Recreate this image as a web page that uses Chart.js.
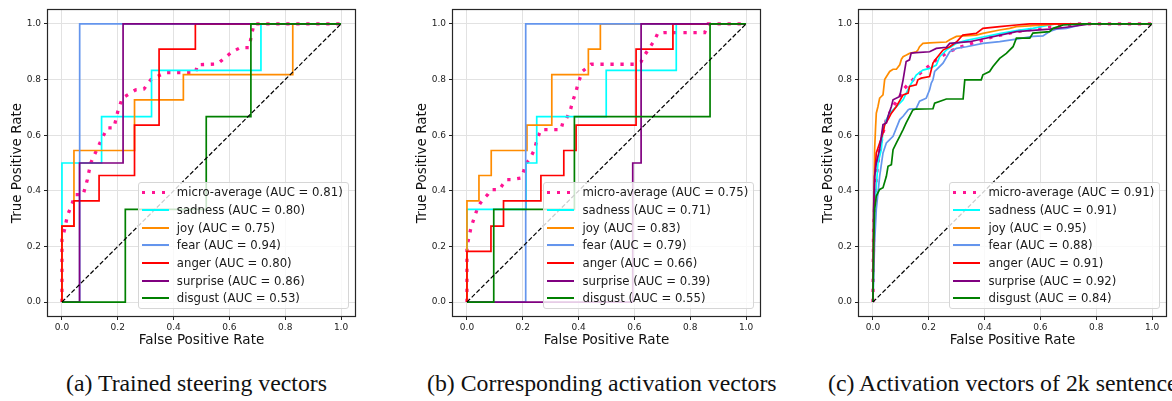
<!DOCTYPE html>
<html>
<head>
<meta charset="utf-8">
<script src="https://cdn.jsdelivr.net/npm/chart.js@4.4.1/dist/chart.umd.min.js"></script>
<style>
  html, body { margin: 0; padding: 0; background: #fff; }
  body { width: 1172px; height: 401px; overflow: hidden; position: relative; font-family: "DejaVu Sans", sans-serif; }
  .panel { position: absolute; top: 0; width: 357px; height: 352px; }
  .panel canvas { position: absolute; left: 0; top: 0; }
  .legend { position: absolute; right: 10px; bottom: 42.7px; background: rgba(255,255,255,0.8);
            border: 1px solid #d6d6d6; border-radius: 3px; padding: 1px 5px 1px 3px;
            font-size: 11.7px; color: #1a1a1a; }
  .row { display: flex; align-items: center; height: 17.7px; white-space: nowrap; }
  .handle { width: 27px; margin-right: 8px; flex: none; }
  .caption { position: absolute; top: 370px; font-family: "Liberation Serif", serif; font-size: 23.8px;
             white-space: nowrap; color: #111; }
</style>
</head>
<body>

<script>
// ---- data ----
const CLASS_NAMES = ["micro-average", "sadness", "joy", "fear", "anger", "surprise", "disgust"];
const COLORS = ["#ff1493", "#00ffff", "#ff8c00", "#6495ed", "#ff0000", "#800080", "#008000"];
const TICKS = [0, 0.2, 0.4, 0.6, 0.8, 1.0];
const DIAGONAL = [[0, 0], [1, 1]];
const CAPTIONS = ["(a) Trained steering vectors", "(b) Corresponding activation vectors", "(c) Activation vectors of 2k sentences"];

// (a) trained steering vectors
const AUC_A = [0.81, 0.80, 0.75, 0.94, 0.80, 0.86, 0.53];
const A_MICRO = [[0,0],[0,0.225],[0.0096,0.261],[0.019,0.309],[0.037,0.356],[0.047,0.386],[0.076,0.386],[0.091,0.44],[0.103,0.5],[0.136,0.572],[0.162,0.626],[0.186,0.626],[0.2,0.685],[0.216,0.733],[0.264,0.763],[0.294,0.766],[0.318,0.799],[0.354,0.817],[0.375,0.825],[0.479,0.825],[0.485,0.853],[0.557,0.856],[0.61,0.9],[0.64,0.915],[0.67,0.915],[0.688,1],[1,1]];
const A_SADNESS = [[0,0],[0,0.5],[0.142,0.5],[0.142,0.667],[0.321,0.667],[0.321,0.833],[0.713,0.833],[0.713,1],[1,1]];
const A_JOY = [[0,0],[0,0.273],[0.043,0.273],[0.043,0.545],[0.26,0.545],[0.26,0.727],[0.435,0.727],[0.435,0.818],[0.827,0.818],[0.827,1],[1,1]];
const A_FEAR = [[0,0],[0.0635,0],[0.0635,1],[1,1]];
const A_ANGER = [[0,0],[0,0.273],[0.043,0.273],[0.043,0.364],[0.133,0.364],[0.133,0.455],[0.26,0.455],[0.26,0.636],[0.348,0.636],[0.348,0.909],[0.478,0.909],[0.478,1],[1,1]];
const A_SURPRISE = [[0,0],[0.063,0],[0.063,0.5],[0.219,0.5],[0.219,1],[1,1]];
const A_DISGUST = [[0,0],[0.227,0],[0.227,0.333],[0.517,0.333],[0.517,0.667],[0.677,0.667],[0.677,1],[1,1]];

// (b) corresponding activation vectors
const AUC_B = [0.75, 0.71, 0.83, 0.79, 0.66, 0.39, 0.55];
const B_MICRO = [[0,0],[0,0.2],[0.008,0.237],[0.014,0.266],[0.024,0.297],[0.038,0.338],[0.048,0.356],[0.062,0.374],[0.074,0.386],[0.086,0.404],[0.116,0.404],[0.128,0.422],[0.14,0.44],[0.158,0.44],[0.194,0.446],[0.203,0.47],[0.212,0.5],[0.224,0.512],[0.242,0.548],[0.248,0.572],[0.26,0.608],[0.266,0.62],[0.337,0.62],[0.343,0.644],[0.355,0.656],[0.371,0.692],[0.379,0.722],[0.391,0.758],[0.397,0.782],[0.407,0.811],[0.413,0.829],[0.445,0.855],[0.6,0.855],[0.624,0.864],[0.636,0.887],[0.648,0.905],[0.66,0.923],[0.672,0.941],[0.684,0.967],[0.708,0.969],[0.852,0.969],[0.864,1],[1,1]];
const B_SADNESS = [[0,0],[0,0.333],[0.212,0.333],[0.212,0.5],[0.25,0.5],[0.25,0.667],[0.499,0.667],[0.499,0.833],[0.75,0.833],[0.75,1],[1,1]];
const B_JOY = [[0,0],[0,0.364],[0.043,0.364],[0.043,0.455],[0.087,0.455],[0.087,0.545],[0.215,0.545],[0.215,0.636],[0.304,0.636],[0.304,0.818],[0.435,0.818],[0.435,0.909],[0.478,0.909],[0.478,1],[1,1]];
const B_FEAR = [[0,0],[0.2105,0],[0.2105,1],[1,1]];
const B_ANGER = [[0,0],[0,0.182],[0.086,0.182],[0.086,0.273],[0.131,0.273],[0.131,0.364],[0.265,0.364],[0.265,0.455],[0.347,0.455],[0.347,0.545],[0.391,0.545],[0.391,0.636],[0.606,0.636],[0.606,0.909],[0.738,0.909],[0.738,1],[1,1]];
const B_SURPRISE = [[0,0],[0.594,0],[0.594,0.5],[0.624,0.5],[0.624,1],[1,1]];
const B_DISGUST = [[0,0],[0.096,0],[0.096,0.333],[0.385,0.333],[0.385,0.667],[0.871,0.667],[0.871,1],[1,1]];

// (c) activation vectors of 2k sentences
const AUC_C = [0.91, 0.91, 0.95, 0.88, 0.91, 0.92, 0.84];
const C_MICRO = [[0,0],[0.0024,0.273],[0.012,0.452],[0.024,0.548],[0.036,0.608],[0.048,0.656],[0.072,0.703],[0.096,0.739],[0.113,0.769],[0.131,0.787],[0.155,0.811],[0.191,0.841],[0.227,0.871],[0.263,0.895],[0.299,0.912],[0.335,0.924],[0.394,0.942],[0.43,0.954],[0.514,0.972],[0.633,0.99],[0.693,0.996],[0.729,1],[1,1]];
const C_SADNESS = [[0,0],[0.006,0.333],[0.018,0.5],[0.03,0.548],[0.036,0.62],[0.048,0.656],[0.06,0.679],[0.084,0.703],[0.108,0.727],[0.131,0.775],[0.155,0.816],[0.179,0.834],[0.203,0.84],[0.227,0.852],[0.239,0.882],[0.263,0.906],[0.299,0.93],[0.335,0.941],[0.394,0.953],[0.454,0.965],[0.514,0.976],[0.573,0.984],[0.633,0.996],[0.657,1],[1,1]];
const C_JOY = [[0,0],[0.0024,0.333],[0.006,0.548],[0.0096,0.632],[0.012,0.679],[0.018,0.703],[0.024,0.733],[0.03,0.739],[0.036,0.745],[0.042,0.8],[0.048,0.81],[0.06,0.829],[0.072,0.837],[0.084,0.837],[0.096,0.853],[0.102,0.873],[0.108,0.882],[0.12,0.888],[0.131,0.894],[0.143,0.897],[0.155,0.9],[0.161,0.906],[0.167,0.918],[0.179,0.93],[0.203,0.932],[0.263,0.935],[0.275,0.943],[0.299,0.955],[0.37,0.96],[0.394,0.966],[0.454,0.978],[0.49,0.984],[0.514,0.99],[0.633,0.997],[0.657,1],[1,1]];
const C_FEAR = [[0,0],[0.006,0.213],[0.012,0.333],[0.024,0.452],[0.036,0.536],[0.048,0.572],[0.06,0.584],[0.072,0.596],[0.096,0.656],[0.108,0.668],[0.126,0.691],[0.131,0.694],[0.155,0.696],[0.167,0.722],[0.191,0.733],[0.203,0.763],[0.209,0.787],[0.215,0.799],[0.221,0.829],[0.227,0.835],[0.251,0.859],[0.275,0.9],[0.299,0.912],[0.335,0.918],[0.394,0.93],[0.454,0.936],[0.514,0.945],[0.573,0.955],[0.609,0.957],[0.633,0.973],[0.657,0.981],[0.693,0.984],[0.729,0.993],[0.753,1],[1,1]];
const C_ANGER = [[0,0],[0.0024,0.213],[0.006,0.452],[0.012,0.536],[0.024,0.572],[0.036,0.608],[0.042,0.638],[0.054,0.656],[0.066,0.679],[0.084,0.703],[0.108,0.745],[0.126,0.751],[0.131,0.775],[0.155,0.781],[0.161,0.799],[0.173,0.805],[0.203,0.811],[0.215,0.859],[0.227,0.876],[0.251,0.906],[0.275,0.918],[0.299,0.935],[0.322,0.96],[0.37,0.966],[0.394,0.984],[0.454,0.99],[0.514,0.996],[0.562,1],[1,1]];
const C_SURPRISE = [[0,0],[0.0024,0.333],[0.006,0.452],[0.012,0.5],[0.024,0.548],[0.03,0.596],[0.036,0.638],[0.048,0.644],[0.054,0.668],[0.066,0.703],[0.072,0.727],[0.096,0.739],[0.108,0.799],[0.113,0.829],[0.119,0.865],[0.131,0.871],[0.137,0.895],[0.155,0.897],[0.203,0.9],[0.227,0.912],[0.263,0.916],[0.275,0.93],[0.346,0.936],[0.514,0.972],[0.633,0.981],[0.693,0.988],[0.753,0.996],[0.777,1],[1,1]];
const C_DISGUST = [[0,0],[0.0024,0.213],[0.006,0.333],[0.012,0.381],[0.024,0.405],[0.036,0.411],[0.048,0.452],[0.054,0.488],[0.066,0.494],[0.072,0.548],[0.084,0.572],[0.096,0.596],[0.108,0.62],[0.119,0.644],[0.131,0.668],[0.143,0.691],[0.155,0.694],[0.215,0.695],[0.221,0.715],[0.263,0.73],[0.323,0.73],[0.329,0.799],[0.388,0.799],[0.394,0.817],[0.418,0.829],[0.43,0.847],[0.454,0.876],[0.478,0.894],[0.502,0.918],[0.514,0.949],[0.562,0.949],[0.573,0.967],[0.633,0.972],[0.645,0.984],[0.681,0.996],[0.753,1],[1,1]];

// panel placement: left edge of each canvas (axes left minus the 46px y axis)
const PANEL_LEFT = [1.7, 407.3, 813.3];
const CAPTION_LEFT = [66, 427, 828];

const PANELS = [
  { series: [A_MICRO, A_SADNESS, A_JOY, A_FEAR, A_ANGER, A_SURPRISE, A_DISGUST], auc: AUC_A },
  { series: [B_MICRO, B_SADNESS, B_JOY, B_FEAR, B_ANGER, B_SURPRISE, B_DISGUST], auc: AUC_B },
  { series: [C_MICRO, C_SADNESS, C_JOY, C_FEAR, C_ANGER, C_SURPRISE, C_DISGUST], auc: AUC_C }
];

// draws the four spines round the plot area
const framePlugin = {
  id: "frame",
  afterDraw(chart) {
    const { ctx, chartArea: a } = chart;
    ctx.save();
    ctx.strokeStyle = "#262626";
    ctx.lineWidth = 1.2;
    ctx.strokeRect(Math.round(a.left) - 0.5, Math.round(a.top) - 0.5,
                   Math.round(a.right - a.left) + 1, Math.round(a.bottom - a.top) + 1);
    ctx.restore();
  }
};

const toXY = pts => pts.map(p => ({ x: p[0], y: p[1] }));
const tickFont = { family: "DejaVu Sans", size: 9 };
const titleFont = { family: "DejaVu Sans", size: 13.5 };

function makeLegend(panelDiv, labels) {
  const box = document.createElement("div");
  box.className = "legend";
  labels.forEach((label, i) => {
    const row = document.createElement("div");
    row.className = "row";
    const h = document.createElement("span");
    h.className = "handle";
    if (i === 0) {
      h.style.height = "3px";
      h.style.background = "repeating-linear-gradient(90deg," + COLORS[0] + " 0 3.3px, transparent 3.3px 10px)";
    } else {
      h.style.height = "2px";
      h.style.background = COLORS[i];
    }
    const t = document.createElement("span");
    t.textContent = label;
    row.appendChild(h);
    row.appendChild(t);
    box.appendChild(row);
  });
  panelDiv.appendChild(box);
}

PANELS.forEach((panel, p) => {
  const div = document.createElement("div");
  div.className = "panel";
  div.style.left = PANEL_LEFT[p] + "px";
  const canvas = document.createElement("canvas");
  canvas.width = 357;
  canvas.height = 352;
  div.appendChild(canvas);
  document.body.appendChild(div);

  const labels = CLASS_NAMES.map((n, i) => n + " (AUC = " + panel.auc[i].toFixed(2) + ")");

  const datasets = panel.series.map((pts, i) => ({
    label: labels[i],
    data: toXY(pts),
    borderColor: COLORS[i],
    borderWidth: i === 0 ? 3.3 : 1.7,
    borderDash: i === 0 ? [3.3, 6.7] : [],
    order: 7 - i
  }));
  datasets.push({
    label: "chance",
    data: toXY(DIAGONAL),
    borderColor: "#000",
    borderWidth: 1.2,
    borderDash: [4.5, 2.2],
    order: 0
  });

  new Chart(canvas, {
    type: "scatter",
    data: { datasets },
    options: {
      responsive: false,
      animation: false,
      layout: { padding: { top: 10, right: 4, left: 0, bottom: 0 } },
      showLine: true,
      elements: {
        point: { radius: 0, hoverRadius: 0 },
        line: { tension: 0, borderCapStyle: "butt", borderJoinStyle: "miter", fill: false }
      },
      plugins: { legend: { display: false }, tooltip: { enabled: false } },
      scales: {
        x: {
          type: "linear", min: -0.05, max: 1.05,
          afterBuildTicks: s => { s.ticks = TICKS.map(v => ({ value: v })); },
          afterFit: s => { s.height = 36; },
          ticks: { callback: v => v.toFixed(1), font: tickFont, color: "#222", padding: 2, maxRotation: 0, autoSkip: false },
          grid: { color: "#e2e2e2", lineWidth: 1, tickColor: "#222", tickLength: 4 },
          border: { display: false },
          title: { display: true, text: "False Positive Rate", font: titleFont, color: "#111", padding: { top: 0, bottom: 3 } }
        },
        y: {
          type: "linear", min: -0.05, max: 1.05,
          afterBuildTicks: s => { s.ticks = TICKS.map(v => ({ value: v })); },
          afterFit: s => { s.width = 46; },
          ticks: { callback: v => v.toFixed(1), font: tickFont, color: "#222", padding: 3, autoSkip: false },
          grid: { color: "#e2e2e2", lineWidth: 1, tickColor: "#222", tickLength: 4 },
          border: { display: false },
          title: { display: true, text: "True Positive Rate", font: titleFont, color: "#111", padding: { top: 7, bottom: 0 } }
        }
      }
    },
    plugins: [framePlugin]
  });

  makeLegend(div, labels);

  const cap = document.createElement("div");
  cap.className = "caption";
  cap.style.left = CAPTION_LEFT[p] + "px";
  cap.textContent = CAPTIONS[p];
  document.body.appendChild(cap);
});
</script>
</body>
</html>
